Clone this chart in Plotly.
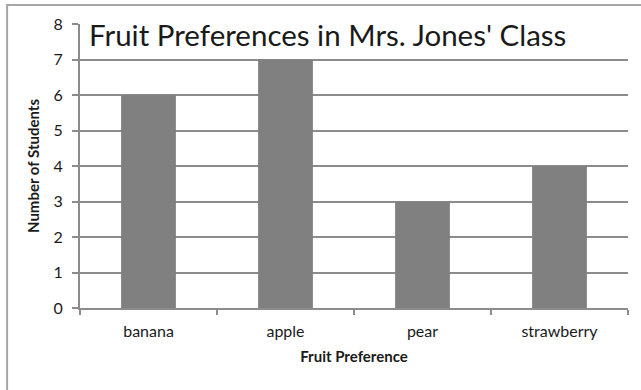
import plotly.graph_objects as go

categories = ["banana", "apple", "pear", "strawberry"]
students = [6, 7, 3, 4]
y_ticks = [0, 1, 2, 3, 4, 5, 6, 7, 8]

GRID = "#8c8c8c"
FONT = "Lato"

fig = go.Figure(go.Bar(
    x=categories, y=students,
    marker=dict(color="#808080", line=dict(width=0)),
))

fig.update_layout(
    width=641, height=390,
    margin=dict(l=80, r=13, t=24, b=82),
    paper_bgcolor="white", plot_bgcolor="white",
    bargap=0.6,
    showlegend=False,
    font=dict(family=FONT, color="#1a1a1a"),
    xaxis=dict(
        showgrid=False, showline=True, linecolor=GRID, linewidth=2,
        ticks="outside", ticklen=5, tickcolor=GRID, tickwidth=2,
        tickson="boundaries",
        ticklabelstandoff=8,
        tickfont=dict(size=16, color="#1a1a1a"),
        title=dict(text="<b>Fruit Preference</b>", font=dict(size=15), standoff=12),
        fixedrange=True,
    ),
    yaxis=dict(
        range=[0, 8], tickvals=y_ticks,
        showgrid=True, gridcolor=GRID, gridwidth=2,
        showline=True, linecolor=GRID, linewidth=2,
        ticks="outside", ticklen=6, tickcolor=GRID, tickwidth=2,
        ticklabelstandoff=6,
        tickfont=dict(size=16, color="#1a1a1a"),
        title=dict(text="<b>Number of Students</b>", font=dict(size=15), standoff=10),
        zeroline=False,
    ),
    shapes=[
        dict(type="rect", xref="paper", yref="paper",
             x0=-0.133, x1=1.2, y0=-0.4, y1=1.067,
             line=dict(color="#a6a6a6", width=2), fillcolor="rgba(0,0,0,0)",
             layer="below"),
    ],
    annotations=[
        dict(text="Fruit Preferences in Mrs. Jones' Class",
             xref="paper", yref="paper", x=0.012, y=0.962,
             xanchor="left", yanchor="middle", showarrow=False,
             font=dict(size=29.5, color="#1a1a1a", family=FONT)),
    ],
)

fig.write_html("out.html")
